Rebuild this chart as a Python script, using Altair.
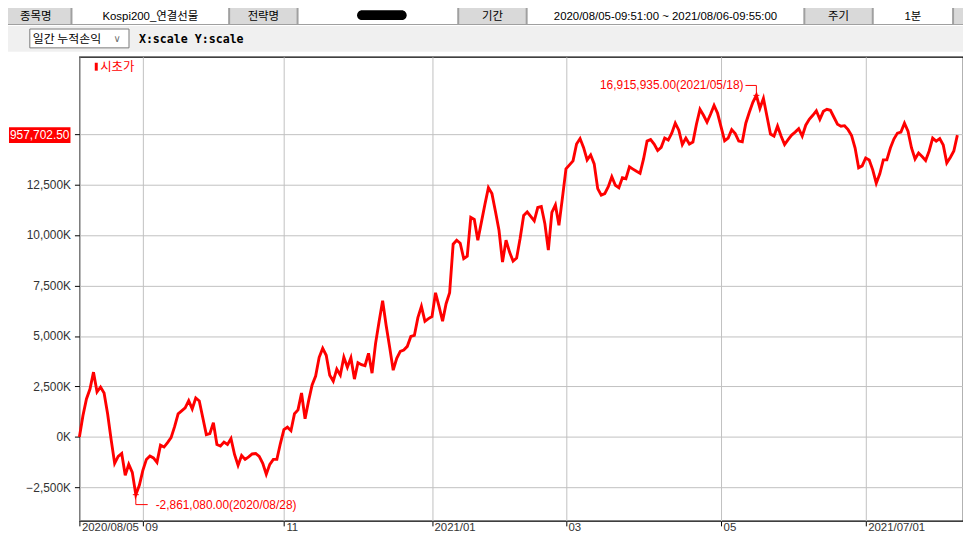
import altair as alt
import pandas as pd

# ---------------- data ----------------
# daily cumulative P&L (thousand won), one value per trading day 2020/08/05 .. 2021/08/06
pnl_k = [
    0, 1046, 1881, 2373, 3208, 2225, 2471, 2176, 1145, -133,
    -1311, -968, -820, -1901, -1361, -1754, -2861.08, -2392, -1655, -1115,
    -943, -1041, -1262, -413, -501, -280, -34, 506, 1145, 1292,
    1439, 1798, 1390, 1930, 1783, 948, 113, 162, 702, -378,
    -452, -255, -378, -84, -869, -1410, -919, -1115, -992, -845,
    -820, -968, -1311, -1852, -1361, -1115, -1115, -329, 359, 481,
    309, 1145, 1341, 2176, 899, 1783, 2569, 3011, 3944, 4386,
    4043, 3060, 2765, 3355, 3060, 3944, 3453, 3920, 2864, 3674,
    3576, 3527, 4141, 3158, 4632, 5713, 6744, 5516, 4435, 3306,
    3895, 4239, 4303, 4485, 4976, 5025, 5909, 6464, 5727, 5860,
    5958, 7137, 6464, 5727, 6597, 7137, 9544, 9740, 9593, 8832,
    8955, 10870, 10772, 9740, 10625, 11509, 12344, 12049, 11165, 10232,
    8660, 9740, 9151, 8709, 8856, 9838, 10968, 11140, 10919, 10698,
    11361, 11410, 10575, 9249, 11116, 11484, 10477, 11853, 13277, 13473,
    13670, 14505, 14776, 14323, 13719, 13965, 13523, 12295, 11975, 12049,
    12393, 12884, 12467, 12344, 12835, 12786, 13375, 13262, 13154, 13056,
    13768, 14652, 14726, 14505, 14186, 14341, 14800, 14702, 15045, 15537,
    15193, 14480, 14800, 14505, 14604, 15488, 16224, 15930, 15586, 15979,
    16421, 16028, 15340, 14667, 14800, 15217, 15021, 14652, 14618, 15537,
    16077, 16568, 16915.935, 16273, 16765, 15881, 14997, 14898, 15390, 14898,
    14480, 14726, 14947, 15095, 15266, 14898, 15438, 15733, 15930, 16151,
    15733, 16126, 16224, 16175, 15831, 15488, 15390, 15414, 15217, 14923,
    14309, 13326, 13424, 13817, 13719, 13228, 12565, 13032, 13719, 13719,
    14309, 14751, 15045, 15095, 15537, 15144, 14309, 13768, 14063, 13891,
    13695, 14161, 14800, 14652, 14776, 14456, 13572, 13842, 14161, 14947,
]
day_index = list(range(len(pnl_k)))

tick_days = [0, 18, 58, 100, 138, 182, 223]
tick_labels = ["2020/08/05", "09", "11", "2021/01", "03", "05", "2021/07/01"]
y_ticks = [-2500, 0, 2500, 5000, 7500, 10000, 12500, 15000]

max_day, max_val, max_text = 192, 16915.935, "16,915,935.00(2021/05/18)"
min_day, min_val, min_text = 16, -2861.08, "-2,861,080.00(2020/08/28)"
last_label = "957,702.50"
legend_name = "시초가"

header_cells = [
    ("종목명", "gray"), ("Kospi200_연결선물", "white"), ("전략명", "gray"), ("", "white"),
    ("기간", "gray"), ("2020/08/05-09:51:00 ~ 2021/08/06-09:55:00", "white"),
    ("주기", "gray"), ("1분", "white"), ("", "gray"),
]
header_edges = [0, 72, 231, 300, 462, 531, 811, 880, 961, 975]
dropdown_text = "일간 누적손익"
scale_text = "X:scale Y:scale"

# ---------------- layout ----------------
OX, OY = 80, 55          # page position of plot origin
W, H = 891, 468
LAT = "'Liberation Sans', 'Noto Sans CJK KR'"
KR = "'Noto Sans CJK KR', 'Liberation Sans'"

one = pd.DataFrame({"k": [0]})


def box(x0, y0, x1, y1, fill, stroke=None, sw=1.0):
    kw = dict(fill=fill, opacity=1)
    if stroke:
        kw.update(stroke=stroke, strokeWidth=sw)
    else:
        kw.update(strokeWidth=0)
    return alt.Chart(one).mark_rect(**kw).encode(
        x=alt.value(x0 - OX), x2=alt.value(x1 - OX),
        y=alt.value(y0 - OY), y2=alt.value(y1 - OY))


def label(x, y, text, size=12, color="#000000", align="center", font=KR, weight="normal"):
    return alt.Chart(one).mark_text(
        text=text, fontSize=size, color=color, align=align, baseline="middle",
        font=font, fontWeight=weight).encode(x=alt.value(x - OX), y=alt.value(y - OY))


layers = []
# header row
layers.append(box(0, 0, 975, 23, "#a0a0a0"))
for (txt, kind), x0, x1 in zip(header_cells, header_edges[:-1], header_edges[1:]):
    fill = "#d9d9d9" if kind == "gray" else "#ffffff"
    layers.append(box(x0 + 1, 2, x1 - 1, 22, fill))
    if txt:
        layers.append(label((x0 + x1) / 2, 15, txt, size=11.5, font=LAT if kind == "white" else KR))
layers.append(alt.Chart(one).mark_rect(fill="#000000", cornerRadius=6).encode(
    x=alt.value(360 - OX), x2=alt.value(410 - OX), y=alt.value(8 - OY), y2=alt.value(18 - OY)))
# toolbar
layers.append(box(0, 24, 975, 50, "#f0f0f0"))
layers.append(box(30, 27, 130, 46, "#ffffff", "#7a7a7a", 1))
layers.append(label(33, 37, dropdown_text, align="left"))
layers.append(label(118, 37, "∨", size=10, color="#707070", font="DejaVu Sans"))
layers.append(label(140, 37, scale_text, size=11.7, align="left", font="DejaVu Sans Mono", weight="bold"))

# main line
df = pd.DataFrame({"day": day_index, "pnl": pnl_k})
label_expr = " : ".join(
    [f"datum.value == {d} ? '{t}'" for d, t in zip(tick_days, tick_labels)] + ["''"])
x_enc = alt.X("day:Q", scale=alt.Scale(domain=[0, 250.6], nice=False, zero=False),
              axis=alt.Axis(values=tick_days, labelExpr=label_expr, title=None, grid=True,
                            gridColor="#c0c0c0", gridWidth=1, domain=False, tickColor="#000000",
                            tickSize=5, labelAlign="left", labelBaseline="top", labelPadding=-4,
                            labelOffset=2, labelFontSize=11.5, labelFont=LAT, labelColor="#333333",
                            labelFlush=False, labelOverlap=False))
y_enc = alt.Y("pnl:Q", scale=alt.Scale(domain=[-4160, 18826], nice=False, zero=False),
              axis=alt.Axis(values=y_ticks,
                            labelExpr="datum.value == 15000 ? '' : format(datum.value, ',') + 'K'",
                            title=None, grid=True, gridColor="#c0c0c0", gridWidth=1, domain=False,
                            tickColor="#000000", tickSize=5, labelPadding=4, labelFontSize=12,
                            labelFont=LAT, labelColor="#333333", labelOverlap=False))
line = alt.Chart(df).mark_line(color="#ff0000", strokeWidth=2.9, strokeJoin="miter").encode(x=x_enc, y=y_enc)
layers.append(line)

# legend
layers.append(box(OX + 15.5, OY + 6, OX + 18.5, OY + 14, "#ff0000"))
layers.append(label(OX + 21, OY + 10, legend_name, size=12.5, color="#ff0000", align="left"))

# max / min annotations
mx = pd.DataFrame({"day": [max_day], "pnl": [max_val]})
mn = pd.DataFrame({"day": [min_day], "pnl": [min_val]})
red = "#ff0000"
for d, up in ((mx, True), (mn, False)):
    s = -1 if up else 1
    layers.append(alt.Chart(d).mark_rule(color=red, strokeWidth=1, y2Offset=10 * s).encode(
        x="day:Q", y="pnl:Q", y2="pnl:Q"))
    layers.append(alt.Chart(d).mark_rule(color=red, strokeWidth=1, yOffset=10 * s,
                                         y2Offset=10 * s, x2Offset=(-11 if up else 12)).encode(
        x="day:Q", x2="day:Q", y="pnl:Q", y2="pnl:Q"))
    layers.append(alt.Chart(d).mark_rule(color=red, strokeWidth=1, xOffset=-3, x2Offset=3).encode(
        x="day:Q", x2="day:Q", y="pnl:Q"))
layers.append(alt.Chart(mx).mark_text(text=max_text, color=red, fontSize=12, font=LAT, align="right",
                                      baseline="middle", dx=-13, dy=-10).encode(x="day:Q", y="pnl:Q"))
layers.append(alt.Chart(mn).mark_text(text=min_text, color=red, fontSize=12, font=LAT, align="left",
                                      baseline="middle", dx=20, dy=10).encode(x="day:Q", y="pnl:Q"))

# current value tag on the y axis
last = pd.DataFrame({"pnl": [pnl_k[-1]]})
layers.append(alt.Chart(last).mark_rect(fill="#ff0000", yOffset=-8, y2Offset=8).encode(
    x=alt.value(9 - OX), x2=alt.value(71 - OX), y="pnl:Q", y2="pnl:Q"))
layers.append(alt.Chart(last).mark_text(text=last_label, color="#ffffff", fontSize=12, font=LAT,
                                        align="right", baseline="middle").encode(
    x=alt.value(70 - OX), y="pnl:Q"))

chart = alt.layer(*layers).properties(
    width=W, height=H, padding={"left": OX - 8, "top": OY - 8, "right": 0, "bottom": 11},
    autosize="none", background="#ffffff",
).configure_view(stroke="#000000", strokeWidth=1.2)

chart.save("out.html", embed_options={"renderer": "svg", "actions": False})
